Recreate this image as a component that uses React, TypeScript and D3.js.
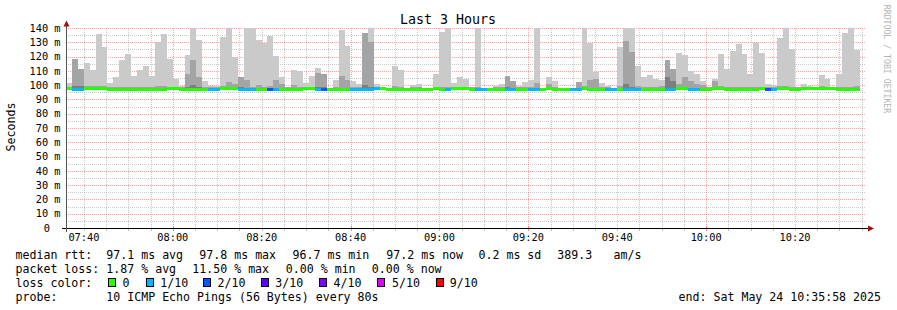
import React from "react";
import * as d3 from "d3";

const START = new Date(2025, 4, 24, 7, 35, 58);
const END = new Date(2025, 4, 24, 10, 35, 58);
const STEP_SECONDS = 80;

const medianRtt = [
  97.4, 97.2, 97.2, 97.6, 97.6, 97.6, 97.6, 97.3, 97.2, 97.2,
  97.2, 97.2, 96.8, 96.8, 96.8, 97.3, 97.2, 97.6, 97.6, 96.9,
  97.3, 97.3, 97.3, 97.3, 96.9, 96.9, 97.4, 97.4, 97.4, 97.0,
  97.0, 97.0, 97.0, 97.3, 97.1, 97.1, 97.3, 97.3, 97.3, 97.3,
  97.5, 97.5, 97.3, 97.3, 97.2, 97.2, 97.2, 97.2, 96.9, 96.9,
  96.9, 96.9, 97.4, 97.6, 97.2, 97.2, 96.9, 96.9, 96.9, 96.9,
  96.9, 96.9, 97.4, 97.2, 97.0, 97.4, 97.4, 97.5, 97.2, 96.9,
  96.9, 96.9, 96.9, 97.3, 97.2, 97.2, 97.3, 97.3, 96.9, 96.9,
  97.2, 97.4, 96.9, 96.9, 96.9, 97.2, 97.2, 97.7, 97.3, 97.2,
  97.0, 97.0, 97.0, 97.3, 97.2, 97.2, 97.2, 97.3, 97.3, 97.3,
  97.3, 97.1, 97.1, 97.4, 97.4, 97.0, 97.0, 96.8, 97.3, 97.6,
  97.6, 97.3, 97.3, 97.3, 97.3, 97.3, 96.9, 97.4, 97.2, 97.2,
  97.6, 97.6, 97.2, 97.2, 97.6, 97.6, 97.4, 97.4, 97.4, 97.4,
  96.9, 96.9, 96.9, 97.3,
];

const maxRtt = [
  101.5, 118, 111, 115.5, 110.6, 136, 127, 101.5, 105.7, 117.6,
  121.8, 106.4, 110.6, 113.4, 106.4, 130.2, 135.8, 118.3, 104.3, 99.4,
  121, 140, 131.6, 102.9, 99.4, 99.4, 133.7, 140, 119.7, 105.7,
  140, 140, 131.6, 129.5, 134.4, 120.4, 105.7, 98.6, 110.6, 110,
  101.5, 106.4, 112, 107.8, 98.2, 103.6, 138.6, 127.4, 102.9, 100.8,
  136.5, 140, 100.8, 98.3, 97.9, 113.4, 110.6, 97.9, 100, 100.8,
  98.3, 97.9, 107.8, 137, 140, 101.5, 105.7, 104.3, 99, 140,
  97.9, 97.9, 99.4, 100.8, 106.4, 102.9, 99.4, 102, 103.6, 140,
  98.3, 105.7, 102.9, 98.3, 97.9, 97.9, 102, 140, 129.5, 109.2,
  101.5, 99.4, 98.3, 126.7, 140, 140, 113.4, 105.7, 107, 104.3,
  103.6, 117.6, 111.3, 122.5, 121, 110, 107.8, 102.9, 99, 104.3,
  121.8, 111.3, 124, 128.8, 121.8, 107.8, 129.5, 122.5, 100.8, 100,
  133, 140, 125.5, 99, 100.8, 99.4, 97.9, 107, 104.3, 97.9,
  107.8, 136.5, 140, 124.4,
];

const p9Rtt = [
  98.8, 118, 111, 99.4, 99.4, 99.4, 99.4, 98.8, 98.8, 98.8,
  98.8, 98.8, 98.4, 98.4, 98.4, 99.2, 99.2, 98.8, 98.8, 98.4,
  108, 117.6, 105.7, 98.8, 98.4, 98.4, 99.2, 102, 100.8, 105.7,
  103.6, 98.8, 99.8, 98.8, 99.2, 103.6, 100.8, 98.6, 100, 98.8,
  99, 98.8, 108.5, 107.8, 98.2, 98.8, 106.4, 103.6, 98.4, 98.4,
  136.5, 130, 98.8, 98.3, 97.9, 99.4, 98.4, 97.9, 98.6, 98.6,
  98.3, 97.9, 98.8, 98.6, 98.6, 98.8, 99, 98.8, 98.6, 98.6,
  97.9, 97.9, 98.4, 98.8, 106.4, 102.9, 98.8, 98.8, 98.6, 101.5,
  98.3, 100.8, 98.6, 98.3, 97.9, 97.9, 102, 99.4, 103.6, 104.3,
  98.8, 98.4, 98.3, 99.2, 130.9, 123.2, 99.2, 98.8, 98.8, 98.8,
  99.5, 117.6, 111.3, 100.8, 105.7, 102.9, 100.8, 100, 98.8, 103,
  99.5, 98.8, 98.8, 98.8, 98.8, 98.8, 98.4, 98.8, 98.8, 98.8,
  99.2, 99.2, 98.8, 98.6, 99, 99, 97.9, 99.4, 98.8, 97.9,
  98.4, 98.4, 98.8, 99.2,
];

const p8Rtt = [
  98.1, 99.5, 99.5, 98.1, 98.1, 98.1, 98.1, 98.1, 98.1, 98.1,
  98.1, 98.1, 97.8, 97.8, 97.8, 98.1, 98.1, 98.1, 98.1, 97.8,
  99, 100, 98.5, 98.1, 97.8, 97.8, 98.1, 98.3, 98.1, 98.5,
  98.3, 98.1, 98.1, 98.1, 98.1, 98.3, 98.1, 98.1, 98.1, 98.1,
  98.1, 98.1, 98.5, 99, 98.1, 98.1, 98.3, 98.1, 97.8, 97.8,
  100, 99, 98.1, 98.1, 97.9, 98.1, 97.8, 97.8, 97.8, 97.8,
  97.8, 97.8, 98.1, 98.1, 98.1, 98.1, 98.1, 98.1, 98.1, 97.8,
  97.8, 97.8, 97.8, 98.1, 98.5, 98.3, 98.1, 98.1, 97.8, 98.1,
  98.1, 98.1, 97.8, 97.8, 97.8, 98.1, 98.1, 98.1, 98.3, 98.3,
  98.1, 98.1, 98.1, 98.1, 100.8, 99, 98.1, 98.1, 98.1, 98.1,
  98.1, 105.7, 102.9, 98.1, 98.5, 98.3, 98.1, 97.8, 98.1, 98.3,
  98.1, 98.1, 98.1, 98.1, 98.1, 98.1, 97.8, 98.1, 98.1, 98.1,
  98.1, 98.1, 98.1, 98.1, 98.1, 98.1, 97.9, 98.1, 98.1, 97.9,
  97.8, 97.8, 97.8, 98.1,
];

const lossCount = [
  0, 1, 1, 0, 0, 0, 0, 0, 0, 0,
  0, 0, 0, 0, 0, 0, 0, 0, 0, 0,
  0, 0, 0, 0, 1, 1, 0, 0, 0, 1,
  1, 1, 0, 0, 2, 1, 0, 0, 0, 0,
  0, 0, 1, 2, 0, 0, 0, 0, 1, 1,
  1, 1, 1, 0, 0, 0, 0, 0, 0, 0,
  0, 0, 0, 0, 1, 0, 0, 0, 0, 1,
  1, 0, 0, 0, 1, 1, 0, 0, 1, 1,
  0, 0, 0, 0, 0, 1, 1, 0, 0, 0,
  0, 1, 1, 0, 1, 1, 1, 0, 0, 0,
  0, 1, 1, 0, 0, 1, 1, 0, 0, 0,
  0, 0, 0, 0, 0, 0, 0, 0, 2, 1,
  0, 0, 0, 0, 0, 0, 0, 0, 0, 0,
  0, 0, 0, 0,
];

const lossLevels = [0, 1, 2, 3, 4, 5, 9];
const lossLabels = ["0", "1/10", "2/10", "3/10", "4/10", "5/10", "9/10"];
const lossColors = ["#26ff00", "#00b8ff", "#0059ff", "#5e00ff", "#7e00ff", "#dd00ff", "#ff0000"];
const smokeColors = ["#cacaca", "#a4a4a4", "#7e7e7e"];

const yMajorTicks = [0, 10, 20, 30, 40, 50, 60, 70, 80, 90, 100, 110, 120, 130, 140];
const yMinorTicks = [5, 15, 25, 35, 45, 55, 65, 75, 85, 95, 105, 115, 125, 135];

const legendLine1 = [
  { x: 15.5, t: "median rtt:" },
  { x: 106.3, t: "97.1 ms avg" },
  { x: 199.3, t: "97.8 ms max" },
  { x: 292.5, t: "96.7 ms min" },
  { x: 386.3, t: "97.2 ms now" },
  { x: 478.5, t: "0.2 ms sd" },
  { x: 557.3, t: "389.3" },
  { x: 613.5, t: "am/s" },
];
const legendLine2 = [
  { x: 15.5, t: "packet loss:" },
  { x: 106.3, t: "1.87 % avg" },
  { x: 192.3, t: "11.50 % max" },
  { x: 285.8, t: "0.00 % min" },
  { x: 371.8, t: "0.00 % now" },
];
const swatchX = [108.5, 146, 203.5, 261.5, 319.5, 377.5, 436];
const swatchTextX = [122.6, 160.3, 217.6, 275.3, 333.6, 392, 449.8];

const MONO = "'DejaVu Sans Mono', 'Liberation Mono', monospace";

export default function App() {
  const x = d3.scaleTime().domain([START, END]).range([66, 866]);
  const y = d3.scaleLinear().domain([0, 140]).range([228, 28]);
  const clip = (v: number) => Math.min(v, 140);
  const fmt = d3.timeFormat("%H:%M");
  const minuteOfDay = (d: Date) => d.getHours() * 60 + d.getMinutes();

  const fiveMin = d3.timeMinute.every(5)!.range(START, END);
  const majorTimes = fiveMin.filter((d) => minuteOfDay(d) % 40 === 0);
  const minorTimes = fiveMin.filter((d) => minuteOfDay(d) % 40 !== 0);
  const labelTimes = fiveMin.filter((d) => minuteOfDay(d) % 20 === 0);

  const colorFor = (c: number) => {
    let idx = 0;
    lossLevels.forEach((l, i) => {
      if (c >= l) idx = i;
    });
    return lossColors[idx];
  };

  const bars = medianRtt.map((m, i) => {
    const t0 = new Date(START.getTime() + i * STEP_SECONDS * 1000);
    const t1 = new Date(t0.getTime() + STEP_SECONDS * 1000);
    const x0 = Math.round(x(t0));
    const x1 = Math.round(x(t1));
    return { i, x0, w: x1 - x0, m, tops: [maxRtt[i], p9Rtt[i], p8Rtt[i]], loss: lossCount[i] };
  });

  const px = (v: number) => Math.round(v) + 0.5;

  return (
    <svg
      width={897}
      height={310}
      viewBox="0 0 897 310"
      style={{ position: "absolute", left: 0, top: 0, background: "#fff" }}
    >
      <rect x={0} y={0} width={897} height={310} fill="#fff" />

      {/* grid (behind data) */}
      <g shapeRendering="crispEdges" strokeDasharray="1,1" strokeWidth={1}>
        {yMinorTicks.map((v) => (
          <line key={`ym${v}`} x1={66} x2={866} y1={px(y(v))} y2={px(y(v))} stroke="#a0a0a0" strokeOpacity={0.55} />
        ))}
        {minorTimes.map((d) => (
          <line key={`xm${d.getTime()}`} x1={px(x(d))} x2={px(x(d))} y1={28} y2={228} stroke="#a0a0a0" strokeOpacity={0.55} />
        ))}
        {yMajorTicks.filter((v) => v > 0).map((v) => (
          <line key={`yM${v}`} x1={66} x2={866} y1={px(y(v))} y2={px(y(v))} stroke="#ff0000" strokeOpacity={0.35} />
        ))}
        {majorTimes.map((d) => (
          <line key={`xM${d.getTime()}`} x1={px(x(d))} x2={px(x(d))} y1={28} y2={228} stroke="#ff0000" strokeOpacity={0.35} />
        ))}
      </g>

      {/* smoke */}
      <g shapeRendering="crispEdges">
        {bars.map((b) =>
          b.tops.map((top, k) => {
            const yt = Math.round(y(clip(top)));
            const yb = Math.round(y(b.m));
            if (yb - yt <= 0) return null;
            return (
              <rect key={`s${b.i}-${k}`} x={b.x0} y={yt} width={b.w} height={yb - yt} fill={smokeColors[k]} />
            );
          })
        )}
        {/* median band coloured by loss */}
        {bars.map((b) => {
          const yt = Math.round(y(b.m + 1.05));
          const yb = Math.round(y(b.m - 1.05));
          return (
            <rect key={`m${b.i}`} x={b.x0} y={yt} width={b.w} height={Math.max(3, yb - yt)} fill={colorFor(b.loss)} />
          );
        })}
      </g>

      {/* axis ticks */}
      <g shapeRendering="crispEdges">
        {minorTimes.map((d) => (
          <line key={`tm${d.getTime()}`} x1={px(x(d))} x2={px(x(d))} y1={228} y2={231} stroke="#a0a0a0" strokeOpacity={0.7} />
        ))}
        {majorTimes.map((d) => (
          <line key={`tM${d.getTime()}`} x1={px(x(d))} x2={px(x(d))} y1={226} y2={231} stroke="#ff0000" strokeOpacity={0.45} />
        ))}
      </g>

      {/* axes */}
      <g shapeRendering="crispEdges">
        <line x1={62} x2={869} y1={228.5} y2={228.5} stroke="#000" />
        <line x1={66.5} x2={66.5} y1={232} y2={25} stroke="#555" />
      </g>
      <path d="M66.5,20.5 L63.5,26.5 L69.5,26.5 Z" fill="#9b1010" />
      <path d="M874,228.5 L868,225.5 L868,231.5 Z" fill="#9b1010" />

      {/* tick labels */}
      <g fontFamily={MONO} fontSize={10.3} fill="#000">
        {yMajorTicks.map((v) => (
          <text key={`yl${v}`} x={v === 0 ? 50 : 60.5} y={y(v) + 3.7} textAnchor="end">
            {v === 0 ? "0" : `${v} m`}
          </text>
        ))}
        {labelTimes.map((d) => (
          <text key={`xl${d.getTime()}`} x={x(d)} y={241} textAnchor="middle">
            {fmt(d)}
          </text>
        ))}
      </g>

      {/* title */}
      <text x={448} y={24} textAnchor="middle" fontFamily={MONO} fontSize={13.3} fill="#000">
        Last 3 Hours
      </text>

      {/* y axis label */}
      <text transform="translate(15,127) rotate(-90)" textAnchor="middle" fontFamily={MONO} fontSize={11.6} fill="#000">
        Seconds
      </text>

      {/* watermark */}
      <text transform="translate(884,59) rotate(90)" textAnchor="middle" fontFamily={MONO} fontSize={8.2} fill="#b4b4b4">
        RRDTOOL / TOBI OETIKER
      </text>

      {/* legend */}
      <g fontFamily={MONO} fontSize={11.6} fill="#000" style={{ whiteSpace: "pre" }}>
        {legendLine1.map((l, i) => (
          <text key={`l1${i}`} x={l.x} y={258.8}>{l.t}</text>
        ))}
        {legendLine2.map((l, i) => (
          <text key={`l2${i}`} x={l.x} y={272.8}>{l.t}</text>
        ))}
        <text x={15.5} y={286.8}>loss color:</text>
        {lossLabels.map((lab, i) => (
          <g key={`sw${i}`}>
            <rect x={swatchX[i]} y={278.5} width={7} height={8} fill={lossColors[i]} stroke="#000" strokeWidth={1} shapeRendering="crispEdges" />
            <text x={swatchTextX[i]} y={286.8}>{lab}</text>
          </g>
        ))}
        <text x={15.5} y={300.8}>probe:</text>
        <text x={106.3} y={300.8}>10 ICMP Echo Pings (56 Bytes) every 80s</text>
        <text x={881} y={300.8} textAnchor="end">end: Sat May 24 10:35:58 2025</text>
      </g>
    </svg>
  );
}
